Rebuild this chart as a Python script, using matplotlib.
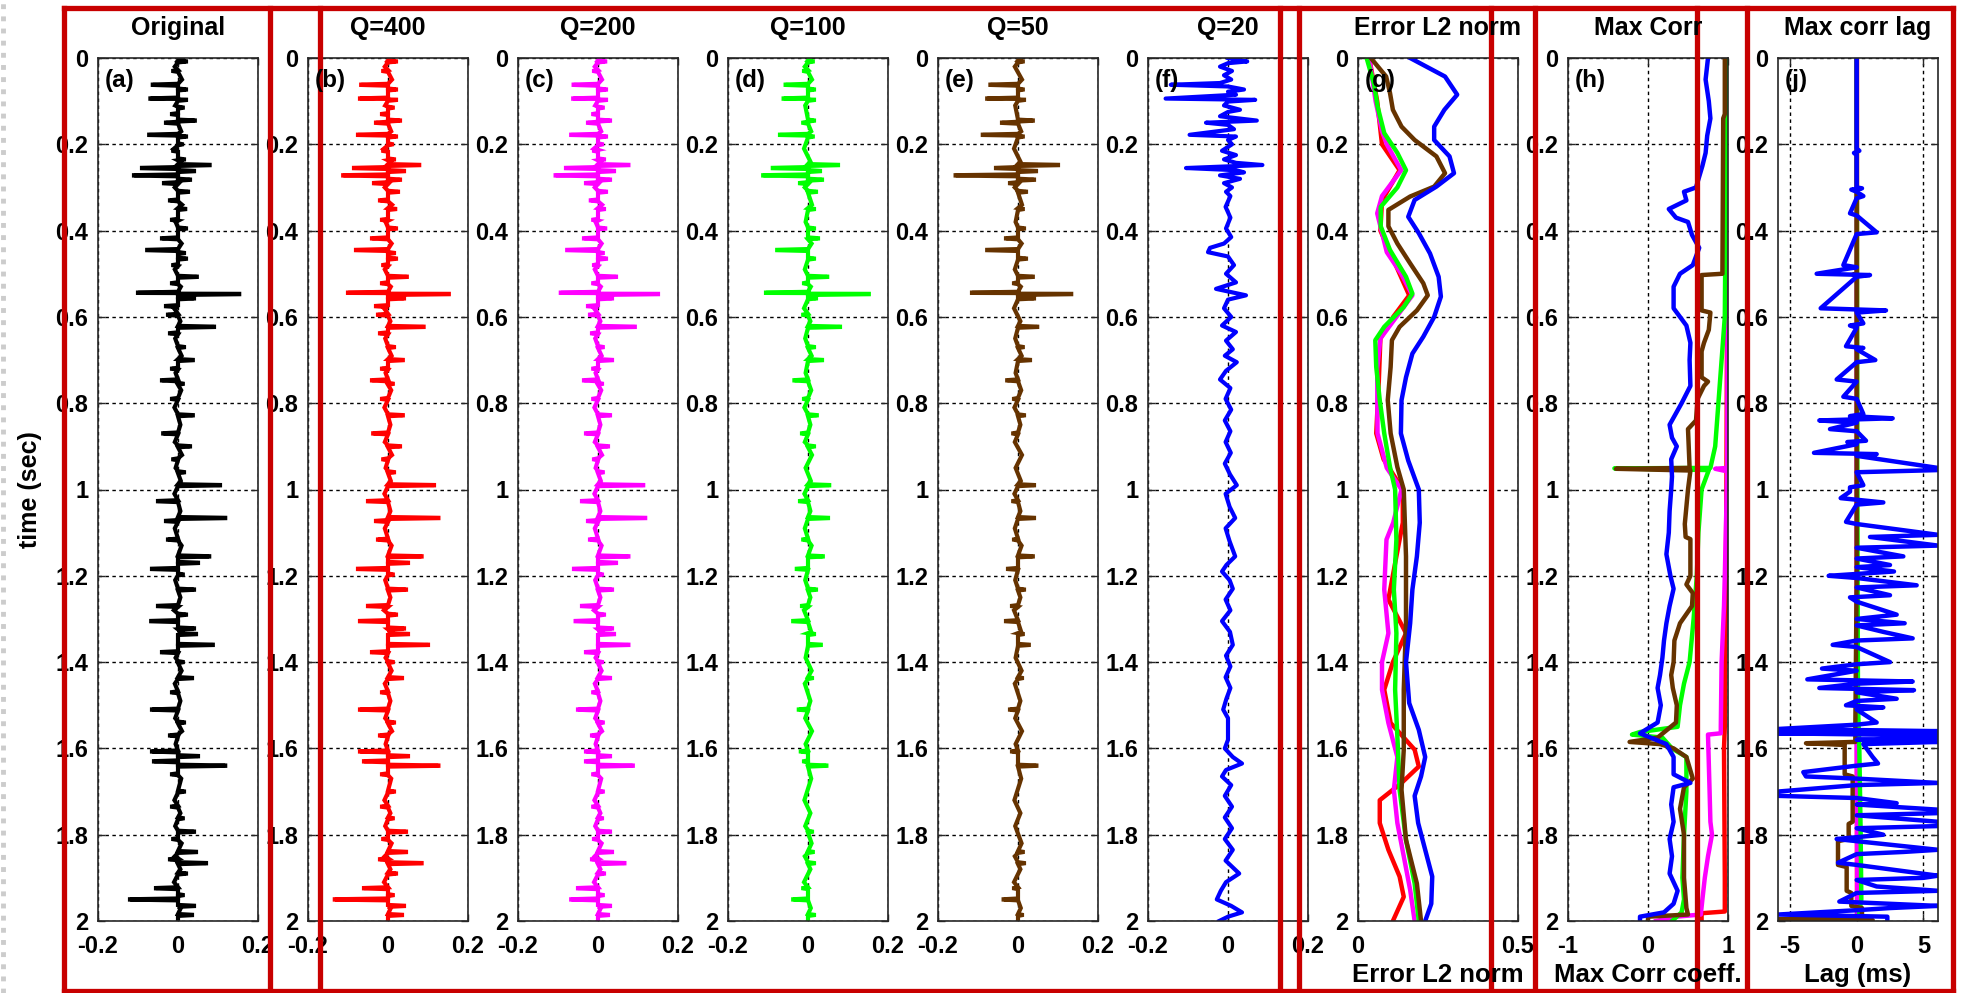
import matplotlib
matplotlib.use("Agg")
import matplotlib.pyplot as plt
from matplotlib.lines import Line2D

plt.rcParams['font.family'] = ['Liberation Sans', 'DejaVu Sans']
plt.rcParams['font.weight'] = 'bold'

# ---- data ----
titles = ["Original", "Q=400", "Q=200", "Q=100", "Q=50", "Q=20",
          "Error L2 norm", "Max Corr", "Max corr lag"]
letters = ["(a)", "(b)", "(c)", "(d)", "(e)", "(f)", "(g)", "(h)", "(j)"]
ytick_vals = [0, 0.2, 0.4, 0.6, 0.8, 1, 1.2, 1.4, 1.6, 1.8, 2]
ytick_labels = ["0", "0.2", "0.4", "0.6", "0.8", "1", "1.2", "1.4", "1.6", "1.8", "2"]

# traces: (time s, amplitude) spike events
trace_a = [(0.008, 0.02), (0.03, -0.012), (0.062, -0.063), (0.073, 0.02), (0.094, -0.069),
           (0.097, 0.02), (0.115, 0.012), (0.13, -0.015), (0.145, 0.042), (0.15, -0.03),
           (0.178, -0.072), (0.182, 0.02), (0.2, 0.01), (0.215, -0.012), (0.235, 0.015),
           (0.248, 0.079), (0.255, -0.09), (0.262, 0.04), (0.272, -0.11), (0.282, 0.03),
           (0.29, -0.035), (0.31, 0.025), (0.33, -0.02), (0.35, 0.018), (0.375, -0.015),
           (0.395, 0.02), (0.418, -0.04), (0.445, -0.077), (0.452, 0.015), (0.465, 0.02),
           (0.48, -0.012), (0.507, 0.047), (0.522, -0.015), (0.544, -0.10), (0.547, 0.153),
           (0.557, 0.04), (0.575, -0.03), (0.595, -0.025), (0.623, 0.09), (0.638, -0.02),
           (0.67, 0.015), (0.70, 0.037), (0.72, -0.015), (0.747, -0.04), (0.755, 0.012),
           (0.79, -0.015), (0.828, 0.037), (0.87, -0.037), (0.9, 0.03), (0.93, -0.012),
           (0.96, 0.015), (0.99, 0.105), (1.027, -0.05), (1.066, 0.118), (1.073, -0.03),
           (1.116, -0.025), (1.155, 0.078), (1.17, 0.05), (1.184, -0.065), (1.197, 0.012),
           (1.232, 0.04), (1.27, -0.05), (1.29, 0.02), (1.305, -0.067), (1.322, 0.04),
           (1.335, 0.045), (1.36, 0.087), (1.377, -0.04), (1.40, 0.012), (1.437, 0.035),
           (1.47, -0.015), (1.51, -0.065), (1.54, 0.015), (1.57, -0.02), (1.607, -0.065),
           (1.618, 0.05), (1.63, -0.06), (1.64, 0.118), (1.66, -0.015), (1.70, 0.015),
           (1.735, -0.015), (1.762, 0.012), (1.793, 0.04), (1.81, -0.012), (1.84, 0.045),
           (1.857, -0.02), (1.866, 0.07), (1.89, 0.02), (1.924, -0.055), (1.94, 0.012),
           (1.95, -0.12), (1.965, 0.04), (1.986, 0.035)]

trace_b = [(0.008, 0.02), (0.03, -0.012), (0.062, -0.067), (0.073, 0.02), (0.094, -0.07),
           (0.097, 0.02), (0.115, 0.012), (0.13, -0.015), (0.145, 0.03), (0.15, -0.03),
           (0.178, -0.075), (0.182, 0.02), (0.2, 0.01), (0.215, -0.012), (0.235, 0.015),
           (0.248, 0.078), (0.255, -0.085), (0.262, 0.04), (0.272, -0.112), (0.282, 0.03),
           (0.29, -0.035), (0.31, 0.025), (0.33, -0.02), (0.35, 0.018), (0.375, -0.015),
           (0.395, 0.02), (0.418, -0.04), (0.445, -0.08), (0.452, 0.015), (0.465, 0.02),
           (0.48, -0.012), (0.507, 0.047), (0.522, -0.015), (0.544, -0.10), (0.547, 0.152),
           (0.557, 0.04), (0.575, -0.03), (0.595, -0.025), (0.623, 0.089), (0.638, -0.02),
           (0.67, 0.015), (0.70, 0.037), (0.72, -0.015), (0.747, -0.04), (0.755, 0.012),
           (0.79, -0.015), (0.828, 0.037), (0.87, -0.037), (0.9, 0.03), (0.93, -0.012),
           (0.96, 0.015), (0.99, 0.115), (1.027, -0.05), (1.066, 0.126), (1.073, -0.03),
           (1.116, -0.025), (1.155, 0.084), (1.17, 0.05), (1.184, -0.075), (1.197, 0.012),
           (1.232, 0.045), (1.27, -0.05), (1.29, 0.02), (1.305, -0.07), (1.322, 0.04),
           (1.335, 0.05), (1.36, 0.10), (1.377, -0.04), (1.40, 0.012), (1.437, 0.035),
           (1.47, -0.015), (1.51, -0.07), (1.54, 0.015), (1.57, -0.02), (1.607, -0.07),
           (1.618, 0.05), (1.63, -0.06), (1.64, 0.126), (1.66, -0.015), (1.70, 0.015),
           (1.735, -0.015), (1.762, 0.012), (1.793, 0.045), (1.81, -0.012), (1.84, 0.045),
           (1.857, -0.02), (1.866, 0.084), (1.89, 0.02), (1.924, -0.06), (1.94, 0.012),
           (1.95, -0.133), (1.965, 0.04), (1.986, 0.035)]

trace_c = [(0.008, 0.018), (0.03, -0.01), (0.062, -0.061), (0.073, 0.02), (0.094, -0.062),
           (0.097, 0.02), (0.115, 0.012), (0.13, -0.012), (0.145, 0.03), (0.15, -0.025),
           (0.178, -0.067), (0.182, 0.02), (0.2, 0.01), (0.215, -0.01), (0.235, 0.015),
           (0.248, 0.076), (0.255, -0.08), (0.262, 0.04), (0.272, -0.106), (0.282, 0.03),
           (0.29, -0.03), (0.31, 0.02), (0.33, -0.018), (0.35, 0.015), (0.375, -0.012),
           (0.395, 0.018), (0.418, -0.035), (0.445, -0.077), (0.452, 0.012), (0.465, 0.02),
           (0.48, -0.01), (0.507, 0.045), (0.522, -0.012), (0.544, -0.093), (0.547, 0.15),
           (0.557, 0.035), (0.575, -0.025), (0.595, -0.02), (0.623, 0.092), (0.638, -0.015),
           (0.67, 0.012), (0.70, 0.035), (0.72, -0.012), (0.747, -0.035), (0.755, 0.01),
           (0.79, -0.012), (0.828, 0.03), (0.87, -0.03), (0.9, 0.025), (0.93, -0.01),
           (0.96, 0.012), (0.99, 0.113), (1.027, -0.04), (1.066, 0.118), (1.073, -0.025),
           (1.116, -0.02), (1.155, 0.076), (1.17, 0.045), (1.184, -0.06), (1.197, 0.01),
           (1.232, 0.035), (1.27, -0.04), (1.29, 0.015), (1.305, -0.056), (1.322, 0.035),
           (1.335, 0.04), (1.36, 0.076), (1.377, -0.03), (1.40, 0.01), (1.437, 0.03),
           (1.47, -0.012), (1.51, -0.05), (1.54, 0.012), (1.57, -0.015), (1.607, -0.03),
           (1.618, 0.03), (1.63, -0.03), (1.64, 0.087), (1.66, -0.012), (1.70, 0.012),
           (1.735, -0.012), (1.762, 0.01), (1.793, 0.03), (1.81, -0.01), (1.84, 0.035),
           (1.857, -0.015), (1.866, 0.066), (1.89, 0.015), (1.924, -0.05), (1.94, 0.012),
           (1.95, -0.067), (1.965, 0.03), (1.986, 0.025)]

trace_d = [(0.008, 0.012), (0.03, -0.01), (0.062, -0.056), (0.073, 0.015), (0.094, -0.061),
           (0.097, 0.015), (0.145, 0.015), (0.15, -0.012), (0.178, -0.07), (0.182, 0.012),
           (0.248, 0.075), (0.255, -0.088), (0.262, 0.03), (0.272, -0.112), (0.282, 0.035),
           (0.29, -0.02), (0.31, 0.02), (0.35, 0.015), (0.395, 0.015), (0.418, 0.025),
           (0.445, -0.077), (0.465, 0.015), (0.507, 0.048), (0.522, -0.01), (0.544, -0.105),
           (0.547, 0.152), (0.557, 0.02), (0.595, -0.012), (0.623, 0.08), (0.67, 0.015),
           (0.70, 0.035), (0.747, -0.034), (0.79, -0.01), (0.828, 0.022), (0.87, -0.015),
           (0.9, 0.015), (0.99, 0.053), (1.027, -0.02), (1.066, 0.05), (1.116, -0.012),
           (1.155, 0.037), (1.184, -0.028), (1.232, 0.02), (1.27, -0.015), (1.305, -0.037),
           (1.335, 0.015), (1.36, 0.032), (1.437, 0.01), (1.51, -0.023), (1.607, -0.018),
           (1.63, -0.01), (1.64, 0.046), (1.793, 0.01), (1.84, 0.012), (1.866, 0.015),
           (1.924, -0.012), (1.95, -0.037), (1.986, 0.015)]

trace_e = [(0.008, 0.012), (0.062, -0.069), (0.073, 0.012), (0.094, -0.077), (0.097, 0.015),
           (0.145, 0.037), (0.15, -0.04), (0.178, -0.088), (0.182, 0.012), (0.248, 0.10),
           (0.255, -0.055), (0.262, 0.045), (0.272, -0.156), (0.282, 0.04), (0.29, -0.02),
           (0.31, 0.02), (0.35, 0.012), (0.395, 0.015), (0.418, -0.03), (0.445, -0.077),
           (0.465, 0.02), (0.507, 0.037), (0.522, -0.01), (0.544, -0.115), (0.547, 0.133),
           (0.557, 0.04), (0.623, 0.048), (0.67, 0.012), (0.70, 0.03), (0.747, -0.027),
           (0.79, -0.01), (0.828, 0.015), (0.87, -0.012), (0.99, 0.04), (1.027, -0.012),
           (1.066, 0.04), (1.116, -0.01), (1.155, 0.037), (1.184, -0.025), (1.232, 0.015),
           (1.27, -0.015), (1.305, -0.03), (1.335, 0.012), (1.36, 0.027), (1.437, 0.01),
           (1.51, -0.02), (1.607, -0.015), (1.64, 0.046), (1.84, 0.012), (1.866, 0.015),
           (1.924, -0.01), (1.95, -0.036), (1.986, 0.01)]

# small wiggle of the trace body (read as a band about 0.01 wide)
body_t = [0.0, 0.02, 0.05, 0.11, 0.17, 0.21, 0.24, 0.3, 0.34, 0.38, 0.43, 0.49, 0.53, 0.58,
          0.61, 0.65, 0.69, 0.73, 0.77, 0.81, 0.85, 0.89, 0.92, 0.95, 0.98, 1.01, 1.05, 1.09,
          1.13, 1.21, 1.25, 1.28, 1.33, 1.39, 1.42, 1.45, 1.49, 1.53, 1.56, 1.59, 1.67, 1.72,
          1.75, 1.78, 1.82, 1.85, 1.88, 1.91, 1.97, 2.0]
body_x = [0.005, -0.008, 0.01, -0.007, 0.008, -0.01, 0.006, -0.008, 0.01, -0.006, 0.009,
          -0.008, 0.007, -0.01, 0.006, -0.007, 0.009, -0.006, 0.008, -0.009, 0.006, -0.008,
          0.01, -0.006, 0.007, -0.009, 0.006, -0.008, 0.009, -0.007, 0.006, -0.01, 0.008,
          -0.006, 0.009, -0.008, 0.006, -0.007, 0.01, -0.006, 0.008, -0.009, 0.006, -0.007,
          0.009, -0.008, 0.006, -0.01, 0.007, 0.0]

# Q=20 trace as a continuous wiggle
trace_f = [(0.0, 0.0), (0.005, 0.03), (0.008, 0.048), (0.012, 0.0), (0.02, -0.02), (0.03, 0.01),
           (0.04, -0.01), (0.05, 0.008), (0.058, -0.02), (0.062, -0.143), (0.066, 0.0),
           (0.073, 0.04), (0.078, 0.0), (0.085, 0.02), (0.094, -0.156), (0.097, 0.068),
           (0.101, 0.0), (0.11, -0.01), (0.12, 0.03), (0.125, 0.0), (0.135, -0.02),
           (0.145, 0.072), (0.15, -0.055), (0.155, 0.0), (0.165, 0.015), (0.178, -0.096),
           (0.182, 0.02), (0.19, 0.0), (0.2, 0.01), (0.215, -0.015), (0.225, 0.02),
           (0.235, -0.01), (0.243, 0.02), (0.248, 0.086), (0.255, -0.105), (0.26, 0.02),
           (0.265, 0.04), (0.272, -0.02), (0.28, 0.03), (0.29, -0.01), (0.3, 0.01),
           (0.31, -0.005), (0.32, 0.006), (0.345, -0.006), (0.37, 0.006), (0.395, -0.005),
           (0.415, 0.008), (0.43, -0.01), (0.44, -0.045), (0.45, -0.05), (0.46, 0.0),
           (0.48, 0.015), (0.50, -0.005), (0.52, 0.02), (0.535, -0.03), (0.55, 0.045),
           (0.56, 0.0), (0.58, -0.01), (0.60, 0.008), (0.62, -0.015), (0.635, 0.02),
           (0.655, -0.005), (0.675, 0.012), (0.69, -0.008), (0.705, 0.022), (0.725, -0.005),
           (0.745, -0.02), (0.765, 0.006), (0.79, -0.006), (0.815, 0.008), (0.84, -0.008),
           (0.865, 0.006), (0.89, -0.006), (0.915, 0.007), (0.94, -0.008), (0.965, 0.005),
           (0.99, 0.022), (1.01, -0.006), (1.04, 0.004), (1.066, 0.018), (1.09, -0.006),
           (1.12, 0.004), (1.155, 0.018), (1.175, -0.004), (1.19, -0.015), (1.21, 0.004),
           (1.23, 0.012), (1.255, -0.006), (1.28, 0.006), (1.305, -0.015), (1.33, 0.005),
           (1.36, 0.012), (1.385, -0.005), (1.41, 0.006), (1.435, -0.006), (1.46, 0.006),
           (1.485, -0.004), (1.51, -0.012), (1.53, 0.0), (1.58, 0.0), (1.60, -0.008),
           (1.62, 0.012), (1.635, 0.035), (1.65, -0.005), (1.665, -0.015), (1.685, 0.008),
           (1.71, -0.008), (1.735, 0.01), (1.76, -0.008), (1.785, 0.01), (1.81, -0.008),
           (1.835, 0.012), (1.86, -0.006), (1.89, 0.028), (1.91, -0.005), (1.93, -0.018),
           (1.95, -0.028), (1.965, 0.008), (1.98, 0.035), (1.99, 0.0), (2.0, -0.022)]

# (g) error L2 norm
g_red = [(0, 0.035), (0.1, 0.06), (0.2, 0.075), (0.26, 0.13), (0.33, 0.075), (0.4, 0.07),
         (0.5, 0.13), (0.55, 0.16), (0.6, 0.11), (0.65, 0.07), (0.75, 0.065), (0.87, 0.057),
         (0.93, 0.08), (1.0, 0.14), (1.077, 0.14), (1.155, 0.12), (1.255, 0.095), (1.333, 0.15),
         (1.40, 0.109), (1.464, 0.082), (1.541, 0.102), (1.603, 0.177), (1.642, 0.19),
         (1.68, 0.136), (1.72, 0.068), (1.773, 0.068), (1.835, 0.095), (1.897, 0.13),
         (1.944, 0.143), (2.0, 0.109)]
g_magenta = [(0, 0.035), (0.1, 0.055), (0.17, 0.075), (0.2, 0.09), (0.26, 0.135), (0.32, 0.075),
             (0.36, 0.06), (0.45, 0.09), (0.5, 0.135), (0.55, 0.17), (0.6, 0.12), (0.65, 0.07),
             (0.72, 0.06), (0.87, 0.061), (0.95, 0.09), (1.0, 0.136), (1.077, 0.11),
             (1.116, 0.089), (1.232, 0.082), (1.333, 0.095), (1.40, 0.075), (1.464, 0.075),
             (1.541, 0.095), (1.62, 0.123), (1.696, 0.112), (1.773, 0.123), (1.85, 0.143),
             (1.928, 0.163), (2.0, 0.177)]
g_green = [(0, 0.027), (0.06, 0.05), (0.112, 0.061), (0.174, 0.082), (0.22, 0.123), (0.26, 0.15),
           (0.3, 0.123), (0.345, 0.071), (0.39, 0.071), (0.445, 0.1), (0.507, 0.15), (0.546, 0.17),
           (0.577, 0.143), (0.623, 0.082), (0.654, 0.054), (0.716, 0.057), (0.793, 0.068),
           (0.87, 0.082), (0.948, 0.1), (1.0, 0.116), (1.116, 0.12), (1.232, 0.112),
           (1.333, 0.12), (1.464, 0.116), (1.603, 0.125), (1.696, 0.13), (1.812, 0.15),
           (1.913, 0.177), (2.0, 0.19)]
g_brown = [(0, 0.04), (0.043, 0.088), (0.081, 0.1), (0.12, 0.109), (0.159, 0.136), (0.19, 0.177),
           (0.228, 0.245), (0.267, 0.272), (0.298, 0.238), (0.321, 0.163), (0.352, 0.095),
           (0.39, 0.095), (0.43, 0.123), (0.476, 0.163), (0.522, 0.204), (0.55, 0.218),
           (0.585, 0.184), (0.623, 0.13), (0.654, 0.106), (0.716, 0.102), (0.793, 0.093),
           (0.87, 0.102), (0.948, 0.123), (1.0, 0.143), (1.155, 0.15), (1.31, 0.15),
           (1.464, 0.143), (1.603, 0.143), (1.696, 0.136), (1.812, 0.15), (1.913, 0.184),
           (2.0, 0.197)]
g_blue = [(0, 0.163), (0.043, 0.272), (0.085, 0.31), (0.12, 0.27), (0.159, 0.238), (0.19, 0.238),
          (0.228, 0.286), (0.267, 0.3), (0.298, 0.245), (0.329, 0.177), (0.368, 0.157),
          (0.406, 0.19), (0.453, 0.225), (0.507, 0.252), (0.553, 0.259), (0.6, 0.238),
          (0.646, 0.204), (0.685, 0.17), (0.74, 0.15), (0.793, 0.136), (0.87, 0.134),
          (0.933, 0.157), (1.0, 0.19), (1.077, 0.193), (1.155, 0.184), (1.232, 0.17),
          (1.31, 0.163), (1.40, 0.15), (1.495, 0.16), (1.557, 0.19), (1.62, 0.21), (1.665, 0.197),
          (1.71, 0.177), (1.773, 0.188), (1.835, 0.21), (1.897, 0.232), (1.96, 0.229), (2.0, 0.21)]

# (h) max correlation coefficient
h_red = [(0, 0.99), (0.5, 0.99), (1.0, 0.98), (1.3, 0.97), (1.55, 0.96), (1.6, 0.95),
         (1.9, 0.96), (1.978, 0.96), (1.982, 0.67), (2.0, 0.67)]
h_magenta = [(0, 1.0), (0.95, 0.99), (0.952, 0.84), (0.958, 0.99), (1.2, 0.96), (1.27, 0.95),
             (1.4, 0.92), (1.55, 0.91), (1.565, 0.91), (1.568, 0.75), (1.7, 0.77), (1.77, 0.78),
             (1.8, 0.8), (1.85, 0.75), (1.9, 0.71), (1.95, 0.68), (1.985, 0.66), (1.99, 0.35),
             (2.0, 0.1)]
h_green = [(0, 1.0), (0.13, 1.0), (0.14, 0.98), (0.6, 0.96), (0.75, 0.9), (0.9, 0.84),
           (0.95, 0.78), (0.951, -0.42), (0.955, 0.76), (1.0, 0.67), (1.1, 0.63), (1.2, 0.61),
           (1.3, 0.57), (1.4, 0.52), (1.45, 0.45), (1.5, 0.4), (1.55, 0.37), (1.562, -0.1),
           (1.568, -0.2), (1.575, 0.18), (1.6, 0.3), (1.62, 0.48), (1.7, 0.48), (1.8, 0.45),
           (1.9, 0.43), (1.95, 0.45), (1.98, 0.42), (2.0, 0.3)]
h_brown = [(0, 0.96), (0.13, 0.96), (0.14, 0.94), (0.5, 0.93), (0.503, 0.67), (0.585, 0.67),
           (0.59, 0.78), (0.63, 0.76), (0.66, 0.7), (0.68, 0.67), (0.74, 0.67), (0.75, 0.75),
           (0.76, 0.7), (0.79, 0.62), (0.84, 0.6), (0.86, 0.5), (0.95, 0.52), (0.952, -0.4),
           (0.956, 0.53), (1.0, 0.5), (1.08, 0.46), (1.11, 0.47), (1.115, 0.53), (1.2, 0.53),
           (1.22, 0.48), (1.24, 0.56), (1.27, 0.55), (1.31, 0.4), (1.35, 0.33), (1.4, 0.32),
           (1.43, 0.29), (1.46, 0.31), (1.5, 0.36), (1.54, 0.35), (1.575, 0.12), (1.585, -0.23),
           (1.59, 0.15), (1.6, 0.32), (1.62, 0.48), (1.67, 0.56), (1.69, 0.45), (1.74, 0.4),
           (1.8, 0.45), (1.9, 0.45), (1.97, 0.48), (1.985, 0.5), (1.99, 0.0), (2.0, 0.0)]
h_blue = [(0, 0.75), (0.05, 0.72), (0.1, 0.76), (0.14, 0.78), (0.18, 0.74), (0.22, 0.72),
          (0.25, 0.68), (0.3, 0.6), (0.31, 0.45), (0.33, 0.48), (0.35, 0.26), (0.37, 0.35),
          (0.38, 0.5), (0.41, 0.55), (0.44, 0.64), (0.48, 0.56), (0.5, 0.4), (0.53, 0.32),
          (0.58, 0.32), (0.6, 0.4), (0.62, 0.48), (0.66, 0.53), (0.7, 0.52), (0.76, 0.53),
          (0.8, 0.42), (0.85, 0.27), (0.88, 0.3), (0.9, 0.36), (0.93, 0.29), (0.97, 0.3),
          (1.0, 0.29), (1.05, 0.27), (1.1, 0.26), (1.15, 0.23), (1.2, 0.28), (1.23, 0.32),
          (1.27, 0.27), (1.31, 0.23), (1.35, 0.2), (1.39, 0.18), (1.43, 0.15), (1.46, 0.12),
          (1.5, 0.16), (1.54, 0.12), (1.565, -0.1), (1.59, 0.23), (1.62, 0.32), (1.66, 0.32),
          (1.68, 0.53), (1.69, 0.32), (1.73, 0.29), (1.77, 0.32), (1.81, 0.27), (1.85, 0.3),
          (1.89, 0.27), (1.93, 0.37), (1.96, 0.32), (1.98, 0.2), (1.99, -0.1), (2.0, -0.1)]

# (j) lag of max correlation, ms
j_red = [(0, 0.0), (2.0, 0.0)]
j_magenta = [(0, 0.0), (1.6, 0.0), (2.0, 0.05)]
j_green = [(0, 0.0), (1.0, 0.05), (1.5, 0.1), (1.6, 0.2), (1.8, 0.3), (1.95, 0.35), (2.0, 0.1)]
j_brown = [(0, 0.0), (0.5, 0.0), (0.502, -0.3), (0.505, 0.0), (1.2, 0.0), (1.202, -0.5),
           (1.205, 0.0), (1.55, -0.1), (1.585, -0.1), (1.588, -3.8), (1.592, -0.9), (1.66, -0.9),
           (1.665, -0.3), (1.77, -0.3), (1.775, -0.6), (1.81, -0.6), (1.815, -1.4), (1.87, -1.4),
           (1.875, -0.75), (1.93, -0.75), (1.935, -0.4), (1.965, -0.4), (1.97, 0.4), (1.99, 0.4),
           (1.997, -5.9), (1.998, 1.2), (2.0, 1.2)]
j_blue = [(0, 0.0), (0.21, 0.0), (0.215, 0.2), (0.22, -0.2), (0.225, 0.0), (0.3, 0.0), (0.302, 0.4),
          (0.305, -0.4), (0.31, 0.0), (0.32, 0.5), (0.325, 0.0), (0.36, -0.5), (0.365, 0.0),
          (0.404, 1.5), (0.408, 0.0), (0.48, -1.0), (0.485, 0.0), (0.5, -3.0), (0.503, 1.0),
          (0.507, 0.0), (0.58, -2.7), (0.585, 2.2), (0.59, 0.0), (0.615, 0.5), (0.62, -0.5),
          (0.625, 0.0), (0.668, -0.8), (0.672, 0.5), (0.675, 0.0), (0.7, 1.4), (0.705, 0.0),
          (0.745, -1.5), (0.75, 0.0), (0.785, -1.0), (0.79, 0.0), (0.825, 0.5), (0.83, -0.5),
          (0.835, 2.7), (0.84, -2.8), (0.845, 0.0), (0.86, -2.0), (0.865, 0.0), (0.887, 0.7),
          (0.89, -0.7), (0.895, 0.0), (0.915, -3.2), (0.918, 1.5), (0.922, 0.0), (0.95, 6.1),
          (0.955, 6.1), (0.96, 0.0), (0.99, 0.5), (0.995, -0.5), (1.005, -0.5), (1.02, -1.2),
          (1.03, 2.0), (1.035, 0.0), (1.075, -0.8), (1.08, 0.0), (1.105, 6.1), (1.11, 1.0),
          (1.13, 6.1), (1.135, 0.0), (1.155, 3.5), (1.16, 0.0), (1.175, 2.5), (1.18, 0.0),
          (1.19, 2.8), (1.2, -2.1), (1.205, 0.0), (1.222, 4.5), (1.227, 0.0), (1.245, 2.5),
          (1.25, -0.5), (1.26, 0.0), (1.29, 3.0), (1.3, 0.0), (1.31, 3.6), (1.315, 0.0),
          (1.33, 2.0), (1.345, 4.2), (1.35, 0.0), (1.36, -1.8), (1.365, 0.0), (1.4, 2.5),
          (1.405, 0.0), (1.415, -2.6), (1.42, 0.0), (1.44, -3.7), (1.445, 4.2), (1.45, 0.0),
          (1.46, -2.8), (1.465, 4.3), (1.47, 0.0), (1.485, 3.0), (1.49, 0.0), (1.5, -0.8),
          (1.505, 2.0), (1.51, 0.0), (1.54, 1.5), (1.545, 0.0), (1.555, -5.9), (1.56, 6.1),
          (1.565, -5.9), (1.57, 6.1), (1.575, 6.1), (1.58, 0.0), (1.585, 6.1), (1.59, 0.5),
          (1.62, 1.2), (1.635, 1.6), (1.64, 0.0), (1.655, -4.0), (1.665, -3.8), (1.67, 0.0),
          (1.68, 6.1), (1.685, 0.0), (1.70, -5.9), (1.71, -5.9), (1.715, 0.0), (1.727, 3.0),
          (1.73, 0.0), (1.742, 6.1), (1.75, 6.1), (1.755, 0.0), (1.77, 6.1), (1.78, 6.1),
          (1.785, 0.0), (1.8, 2.0), (1.81, -1.5), (1.815, 0.0), (1.835, 6.1), (1.84, 3.5),
          (1.845, 0.0), (1.865, -1.4), (1.87, 0.0), (1.895, 6.1), (1.9, 5.0), (1.905, 0.0),
          (1.92, 1.5), (1.93, 6.1), (1.935, 0.0), (1.955, -1.3), (1.965, 6.1), (1.97, 2.5),
          (1.975, 0.0), (1.985, -5.9), (1.99, 2.3), (2.0, 2.3)]

RED, MAG, GRN, BRN, BLU = '#ff0000', '#ff00ff', '#00ff00', '#663300', '#0000ff'
BOX = '#c80000'

# ---- figure in pixel units ----
W, H = 1961, 993
fig = plt.figure(figsize=(W / 100, H / 100), dpi=100)
lefts = [98, 308, 518, 728, 938, 1148, 1358, 1568, 1778]
top, pw, ph = 58, 160, 863


def spikes_line(pairs, half=0.0022):
    # merge the spike events with the small body wiggle into one polyline
    pts = [(t, x) for t, x in zip(body_t, body_x)]
    for t, a in pairs:
        pts += [(t - half, 0.0), (t - 0.0004, a), (t + 0.0004, a), (t + half, 0.0)]
    pts.sort()
    return [p[1] for p in pts], [p[0] for p in pts]


def unzip(pairs):
    return [p[1] for p in pairs], [p[0] for p in pairs]


axes = []
for i, lx in enumerate(lefts):
    ax = fig.add_axes([lx / W, 1 - (top + ph) / H, pw / W, ph / H])
    ax.set_ylim(2, 0)
    ax.set_yticks(ytick_vals)
    ax.set_yticklabels(ytick_labels)
    ax.grid(True, color='k', linestyle=(0, (2.5, 2.5)), linewidth=1.0)
    ax.set_axisbelow(True)
    ax.tick_params(direction='in', length=5, width=1, labelsize=17, pad=7,
                   top=True, right=True, colors='#262626', labelcolor='k')
    ax.tick_params(axis='x', pad=10)
    for s in ax.spines.values():
        s.set_color('#262626')
        s.set_linewidth(1.2)
    axes.append(ax)
    cx = (lx + pw / 2) / W
    fig.text(cx, 1 - 28 / H, titles[i], ha='center', va='center', fontsize=18)
    fig.text((lx + 7) / W, 1 - 80 / H, letters[i], ha='left', va='center', fontsize=17.5)

trace_sets = [(trace_a, 'k'), (trace_b, RED), (trace_c, MAG), (trace_d, GRN), (trace_e, BRN)]
for ax, (tr, col) in zip(axes[:5], trace_sets):
    x, t = spikes_line(tr)
    ax.plot(x, t, color=col, linewidth=3.0, solid_joinstyle='miter')
x, t = unzip(trace_f)
axes[5].plot(x, t, color=BLU, linewidth=3.0)

for ax in axes[:6]:
    ax.set_xlim(-0.2, 0.2)
    ax.set_xticks([-0.2, 0, 0.2])
    ax.set_xticklabels(["-0.2", "0", "0.2"])

ax = axes[6]
for data, col in [(g_red, RED), (g_magenta, MAG), (g_green, GRN), (g_brown, BRN), (g_blue, BLU)]:
    x, t = unzip(data)
    ax.plot(x, t, color=col, linewidth=3.2)
ax.set_xlim(0, 0.5)
ax.set_xticks([0, 0.5])
ax.set_xticklabels(["0", "0.5"])

ax = axes[7]
for data, col in [(h_red, RED), (h_magenta, MAG), (h_green, GRN), (h_brown, BRN), (h_blue, BLU)]:
    x, t = unzip(data)
    ax.plot(x, t, color=col, linewidth=3.2)
ax.set_xlim(-1, 1)
ax.set_xticks([-1, 0, 1])
ax.set_xticklabels(["-1", "0", "1"])

ax = axes[8]
for data, col in [(j_red, RED), (j_magenta, MAG), (j_green, GRN), (j_brown, BRN), (j_blue, BLU)]:
    x, t = unzip(data)
    ax.plot(x, t, color=col, linewidth=3.2)
ax.set_xlim(-5.9, 6.1)
ax.set_xticks([-5, 0, 5])
ax.set_xticklabels(["-5", "0", "5"])

# axis labels
fig.text(30 / W, 1 - 490 / H, "time (sec)", rotation=90, ha='center', va='center', fontsize=18)
for i, lab in [(6, "Error L2 norm"), (7, "Max Corr coeff."), (8, "Lag (ms)")]:
    fig.text((lefts[i] + pw / 2) / W, 1 - 975 / H, lab, ha='center', va='center', fontsize=18.5)

# red annotation boxes
edges = [64, 270, 320, 1280, 1299, 1491, 1535, 1697, 1747, 1953]
yt, yb = 1 - 7.5 / H, 1 - 990.5 / H
for ex in edges:
    fig.add_artist(Line2D([ex / W, ex / W], [yt, yb], color=BOX, linewidth=3.8))
for yy in (yt, yb):
    fig.add_artist(Line2D([edges[0] / W, edges[-1] / W], [yy, yy], color=BOX, linewidth=3.8))

# faint dotted strip at the left border
fig.add_artist(Line2D([2.5 / W, 2.5 / W], [0, 1], color='#cccccc', linewidth=3.5,
                      linestyle=(0, (1, 1.5))))

fig.savefig("out.png", dpi=100)
